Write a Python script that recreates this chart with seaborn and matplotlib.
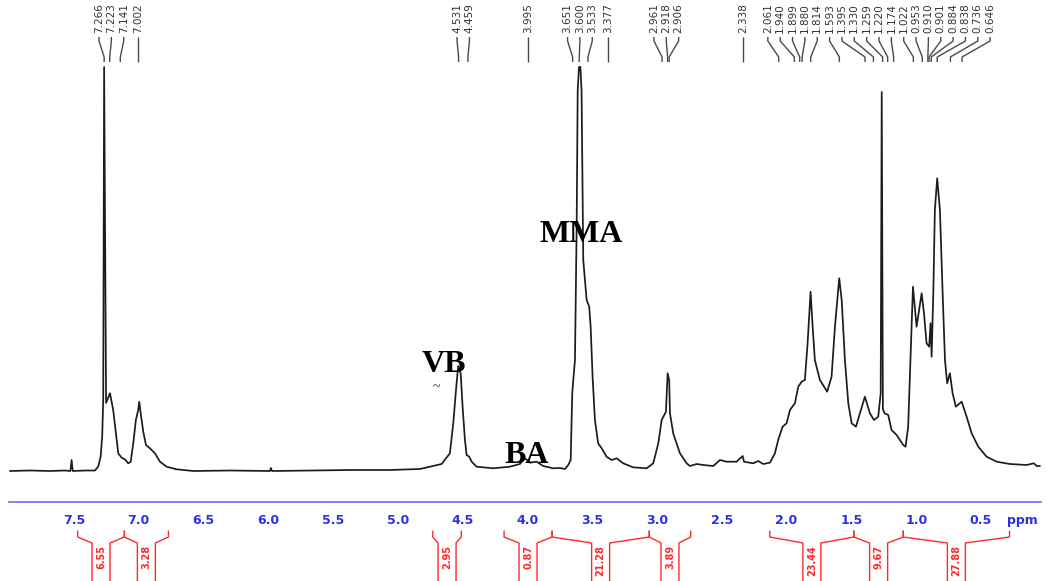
import numpy as np
import pandas as pd
import matplotlib
matplotlib.use("Agg")
import matplotlib.pyplot as plt
import seaborn as sns

# ---------------- data ----------------
ppm = [7.993, 7.839, 7.684, 7.568, 7.526, 7.517, 7.508, 7.414, 7.337, 7.312,
       7.293, 7.281, 7.273, 7.266, 7.251, 7.221, 7.196, 7.175, 7.157, 7.131,
       7.106, 7.080, 7.061, 7.041, 7.021, 7.003, 6.995, 6.984, 6.964, 6.943,
       6.913, 6.874, 6.835, 6.784, 6.707, 6.578, 6.295, 5.987, 5.979, 5.971,
       5.678, 5.354, 5.061, 4.829, 4.662, 4.598, 4.572, 4.551, 4.534, 4.515,
       4.500, 4.482, 4.469, 4.449, 4.430, 4.392, 4.264, 4.135, 4.058, 4.019,
       3.981, 3.929, 3.878, 3.801, 3.749, 3.710, 3.685, 3.666, 3.654, 3.646,
       3.633, 3.620, 3.612, 3.602, 3.591, 3.582, 3.569, 3.543, 3.523, 3.512,
       3.497, 3.479, 3.454, 3.427, 3.389, 3.350, 3.311, 3.261, 3.184, 3.080,
       3.029, 2.990, 2.964, 2.931, 2.918, 2.906, 2.900, 2.875, 2.823, 2.771,
       2.746, 2.694, 2.643, 2.566, 2.514, 2.463, 2.386, 2.339, 2.329, 2.258,
       2.219, 2.180, 2.129, 2.090, 2.065, 2.031, 2.000, 1.974, 1.936, 1.910,
       1.884, 1.859, 1.838, 1.815, 1.799, 1.782, 1.743, 1.687, 1.653, 1.627,
       1.594, 1.575, 1.550, 1.524, 1.498, 1.465, 1.434, 1.396, 1.357, 1.326,
       1.293, 1.274, 1.266, 1.257, 1.244, 1.216, 1.190, 1.151, 1.100, 1.082,
       1.062, 1.035, 1.025, 0.997, 0.958, 0.940, 0.920, 0.900, 0.889, 0.881,
       0.868, 0.856, 0.838, 0.817, 0.796, 0.778, 0.761, 0.740, 0.719, 0.694,
       0.649, 0.611, 0.572, 0.521, 0.457, 0.379, 0.277, 0.148, 0.092, 0.071,
       0.045]
intensity = [0, 0.5, 0, 0.5, 0, 11, 0, 0.5, 0.5, 4.3,
             14.3, 34.3, 71, 404, 68, 77.7, 61, 38, 17.7, 13.3,
             11.7, 7.7, 9.3, 27.7, 51, 61, 69.3, 57.7, 39.3, 26,
             22.7, 17.7, 9.3, 4.3, 1.7, 0, 0.5, 0, 3, 0,
             0.5, 1, 1, 2, 7, 17.7, 47.7, 81, 105, 97.7,
             64.3, 31, 16, 14.3, 9.3, 4.3, 2.7, 4.3, 7, 12.7,
             8.3, 9.3, 5, 2.7, 3, 2, 6, 11, 77.7, 91,
             111, 244.3, 380, 404, 404, 380, 211, 171, 164.3, 144.3,
             94.3, 51, 27.7, 22.7, 14.3, 11, 12.7, 7.7, 3.7, 2.7,
             7.7, 27.7, 51, 59.3, 97.7, 91, 57.7, 37.7, 17.7, 7.7,
             5, 7, 6, 5, 11, 9.3, 9.3, 15, 9.3, 7.7,
             10, 7, 8.3, 17.7, 31, 44.3, 47.7, 61, 67.7, 84.3,
             89.3, 91, 127.7, 179.3, 144.3, 111, 91, 79.3, 94.3, 144.3,
             192.7, 171, 111, 67.7, 47.7, 44.3, 57.7, 74.3, 57.7, 51,
             54.3, 77.7, 379, 62, 57.7, 56, 41, 36, 26, 24.3,
             44.3, 144.3, 184.3, 144.3, 177.7, 157.7, 127.7, 124.3, 147.7, 114.3,
             177.7, 261, 292.7, 261, 177.7, 111, 87.7, 97.7, 77.7, 64.3,
             69.3, 54.3, 37.7, 24.3, 14.3, 9.3, 7, 6, 7.7, 5,
             5]

peak_labels = [7.266, 7.223, 7.141, 7.002, 4.531, 4.459, 3.995, 3.651, 3.600,
               3.533, 3.377, 2.961, 2.918, 2.906, 2.338, 2.061, 1.940, 1.899,
               1.880, 1.814, 1.593, 1.395, 1.330, 1.259, 1.220, 1.174, 1.022,
               0.953, 0.910, 0.901, 0.884, 0.838, 0.736, 0.646]

integral_start = [7.47, 7.11, 4.73, 4.18, 3.81, 3.06, 2.13, 1.48, 1.10]
integral_end = [7.11, 6.77, 4.51, 3.81, 3.06, 2.74, 1.48, 1.10, 0.28]
integral_values = ["6.55", "3.28", "2.95", "0.87", "21.28", "3.89", "23.44", "9.67", "27.88"]

signal_names = ["MMA", "VB", "BA"]
tick_values = [8.0, 7.5, 7.0, 6.5, 6.0, 5.5, 5.0, 4.5, 4.0, 3.5, 3.0, 2.5, 2.0, 1.5, 1.0, 0.5]

# ---------------- layout / style ----------------
W, H = 1047, 581
PX_PER_PPM = 129.6
X_LEFT_PX, X_RIGHT_PX = 9, 1041
PPM_LEFT = 8.0
PPM_RIGHT = PPM_LEFT - (X_RIGHT_PX - X_LEFT_PX) / PX_PER_PPM

BLUE_TXT = "#2f2fe2"
BLUE_LINE = "#6b6bf2"
RED = "#ff2a2a"
TRACE = "#1c1c1c"

sns.set_style("white")
plt.rcParams["font.family"] = ["DejaVu Sans"]

fig = plt.figure(figsize=(W / 100, H / 100), dpi=100)


def rect(x0, y0, x1, y1):
    return [x0 / W, 1 - y1 / H, (x1 - x0) / W, (y1 - y0) / H]


# main spectrum axes (bottom spine = ppm axis)
ax = fig.add_axes(rect(X_LEFT_PX, 0, X_RIGHT_PX, 502))
df = pd.DataFrame({"ppm": ppm, "intensity": intensity})
sns.lineplot(data=df, x="ppm", y="intensity", ax=ax, color=TRACE,
             linewidth=1.25, sort=False, estimator=None)
ax.set_xlim(PPM_LEFT, PPM_RIGHT)
ax.set_ylim(-31, 471)
for s in ["top", "left", "right"]:
    ax.spines[s].set_visible(False)
ax.spines["bottom"].set_color(BLUE_LINE)
ax.spines["bottom"].set_linewidth(1.2)
ax.set_yticks([])
ax.set_xlabel("")
ax.set_ylabel("")
ax.set_xticks(tick_values)
ax.set_xticklabels(["" if v >= 7.99 else f"{v:.1f}" for v in tick_values],
                   fontweight="bold")
ax.xaxis.set_minor_locator(matplotlib.ticker.MultipleLocator(0.1))
ax.tick_params(axis="x", which="major", direction="out", length=4.5, width=1,
               color=BLUE_LINE, labelcolor=BLUE_TXT, labelsize=9, pad=4.5)
ax.tick_params(axis="x", which="minor", direction="out", length=2, width=1,
               color=BLUE_LINE)
fig.text(1022 / W, 1 - 524 / H, "ppm", ha="center", va="baseline",
         fontsize=9, fontweight="bold", color=BLUE_TXT)

# signal annotations
serif = ["Liberation Serif", "DejaVu Serif"]
ann_pos = {"MMA": (3.587, 229.3), "VB": (4.644, 99.3), "BA": (4.006, 7.7)}
for name in signal_names:
    x, y = ann_pos[name]
    ax.text(x, y, name, ha="center", va="baseline", fontsize=23,
            fontweight="bold", family=serif, color="black")
ax.text(4.702, 83.5, "~", ha="center", va="center", fontsize=10,
        family=serif, color="#333333")

# peak labels on top
ax_top = fig.add_axes(rect(X_LEFT_PX, 0, X_RIGHT_PX, 70))
ax_top.set_xlim(PPM_LEFT, PPM_RIGHT)
ax_top.set_ylim(70, 0)
ax_top.axis("off")
ax_top.patch.set_alpha(0)


def spread(targets, gap):
    clusters = [[t] for t in targets]

    def place(cl):
        c = float(np.mean(cl))
        n = len(cl)
        return [c + gap * ((n - 1) / 2 - i) for i in range(n)]

    changed = True
    while changed:
        changed = False
        out = []
        for cl in clusters:
            if out and place(out[-1])[-1] - place(cl)[0] < gap - 1e-9:
                out[-1] = out[-1] + cl
                changed = True
            else:
                out.append(cl)
        clusters = out
    res = []
    for cl in clusters:
        res += place(cl)
    return res


label_pos = spread(sorted(peak_labels, reverse=True), 12.35 / PX_PER_PPM)
for p, lp in zip(sorted(peak_labels, reverse=True), label_pos):
    ax_top.plot([lp, lp, p, p], [37, 41, 57, 62], color="#4a4a4a", lw=1.0,
                solid_capstyle="butt")
    ax_top.text(lp, 3, f"{p:.3f}", rotation=90, ha="center", va="top",
                fontsize=7.5, color="#333333")

# integrals below axis
ax_int = fig.add_axes(rect(X_LEFT_PX, 525, X_RIGHT_PX, 581))
ax_int.set_xlim(PPM_LEFT, PPM_RIGHT)
ax_int.set_ylim(581, 525)
ax_int.axis("off")
ax_int.patch.set_alpha(0)
half = 9 / PX_PER_PPM
for a, b, v in zip(integral_start, integral_end, integral_values):
    c = (a + b) / 2
    ax_int.plot([a, a, c + half, c + half], [531, 537, 543, 582], color=RED, lw=1)
    ax_int.plot([b, b, c - half, c - half], [531, 537, 543, 582], color=RED, lw=1)
    ax_int.text(c, 545, v, rotation=90, ha="center", va="top", fontsize=7,
                fontweight="bold", color=RED)

fig.savefig("out.png", dpi=100)
